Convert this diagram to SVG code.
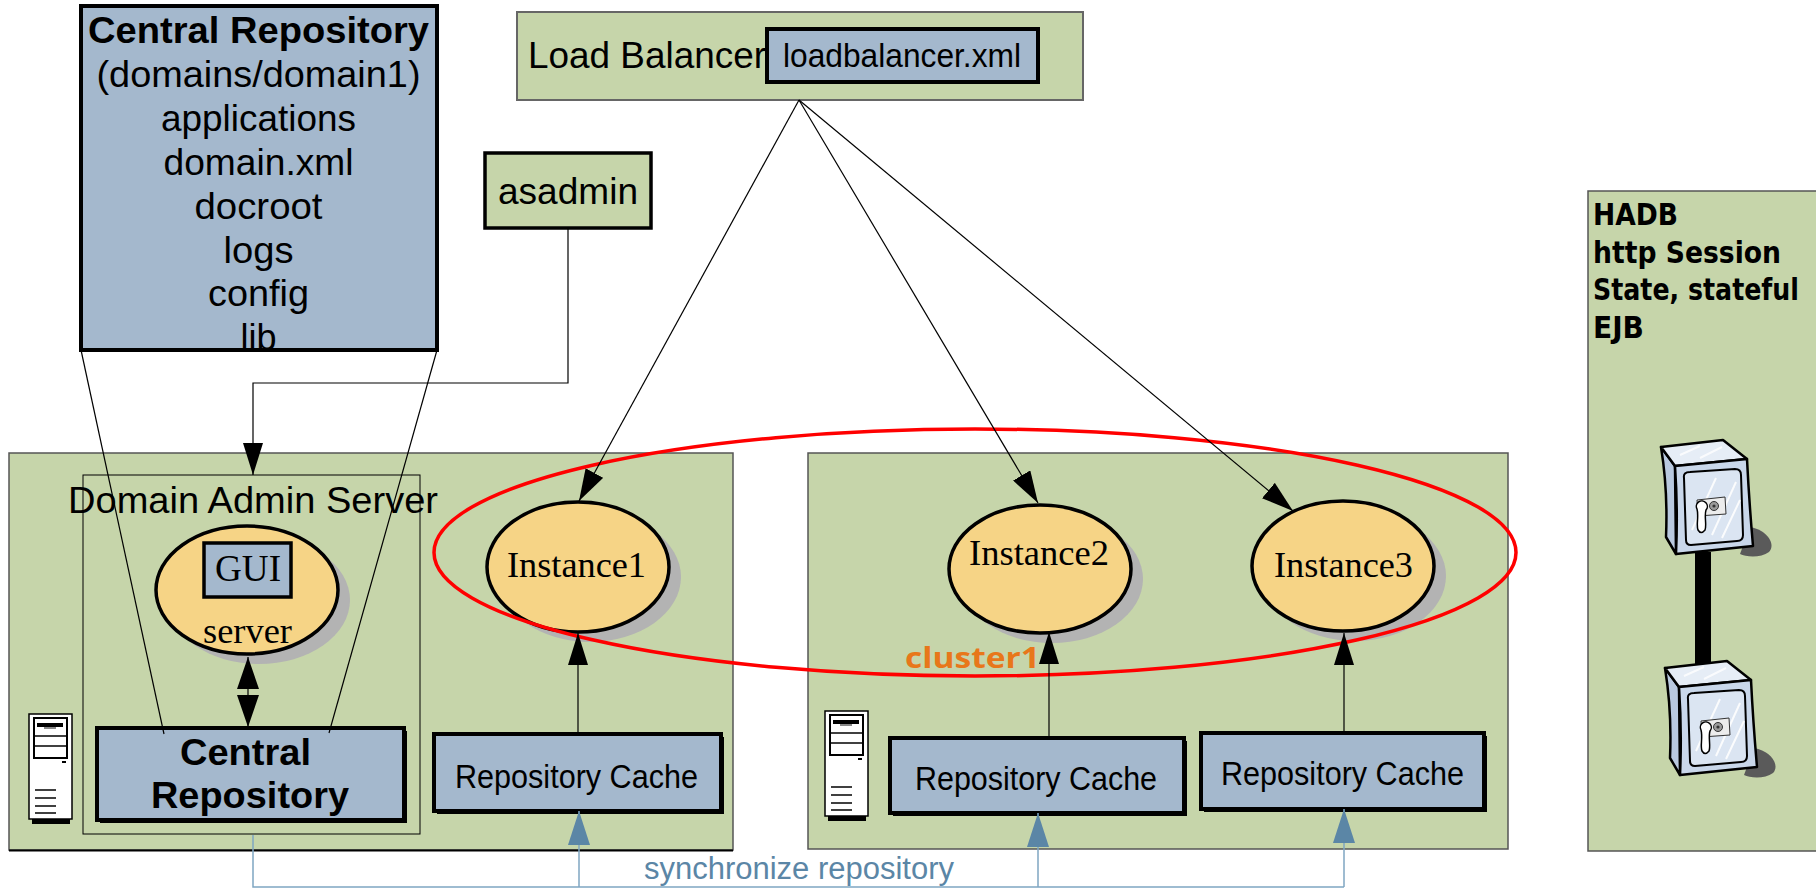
<svg xmlns="http://www.w3.org/2000/svg" xmlns:xlink="http://www.w3.org/1999/xlink" width="1816" height="889" viewBox="0 0 1816 889">
  <style>
    .green { fill: #c6d5aa; stroke: #555; stroke-width: 1.5; }
    .blue { fill: #a4b8cd; stroke: #000; stroke-width: 4; }
    .sans { font-family: "Liberation Sans", Arial, sans-serif; fill: #000; }
    .bold { font-weight: bold; }
    .serif { font-family: "Liberation Serif", "Times New Roman", serif; fill: #000; }
    .mid { text-anchor: middle; }
    .node-ell { fill: #f6d486; stroke: #000; stroke-width: 3.5; }
    .shadow { fill: #b3b3b3; }
    .edge { fill: none; stroke: #000; stroke-width: 1.2; }
    .sync { fill: none; stroke: #7fa6c2; stroke-width: 1.5; }
    .hadb { font-family: "DejaVu Sans", "Open Sans", sans-serif; font-weight: bold; font-size: 30px; fill: #000; }
  </style>
  <defs>
    <marker id="arrow" viewBox="0 0 32 20" refX="32" refY="10" markerWidth="32" markerHeight="20" markerUnits="userSpaceOnUse" orient="auto">
      <path d="M0,0 L32,10 L0,20 z" fill="#000"/>
    </marker>
    <marker id="arrow2" viewBox="0 0 32 22" refX="32" refY="11" markerWidth="32" markerHeight="22" markerUnits="userSpaceOnUse" orient="auto-start-reverse">
      <path d="M0,0 L32,11 L0,22 z" fill="#000"/>
    </marker>
    <marker id="syncArrow" viewBox="0 0 34 22" refX="34" refY="11" markerWidth="34" markerHeight="22" markerUnits="userSpaceOnUse" orient="auto">
      <path d="M0,0 L34,11 L0,22 z" fill="#5b86a6"/>
    </marker>
    <!-- tower PC icon -->
    <g id="tower">
      <rect x="0" y="0" width="43" height="105" fill="#fff" stroke="#000" stroke-width="1.5"/>
      <rect x="3" y="105" width="38" height="5" fill="#000"/>
      <rect x="5" y="4" width="33" height="40" fill="#fff" stroke="#000" stroke-width="2"/>
      <line x1="5" y1="22" x2="38" y2="22" stroke="#000" stroke-width="1.5"/>
      <line x1="5" y1="32" x2="38" y2="32" stroke="#000" stroke-width="1.5"/>
      <rect x="8" y="9" width="26" height="4" fill="#000"/>
      <rect x="15" y="13" width="12" height="2" fill="#888"/>
      <rect x="33" y="47" width="4" height="2" fill="#000"/>
      <g stroke="#000" stroke-width="1.5">
        <line x1="6" y1="76" x2="27" y2="76"/>
        <line x1="6" y1="84" x2="27" y2="84"/>
        <line x1="6" y1="92" x2="27" y2="92"/>
        <line x1="6" y1="99" x2="27" y2="99"/>
      </g>
    </g>
    <!-- safe / storage box icon -->
    <g id="safe">
      <path d="M1750,527 C1768,530 1776,545 1769,552 C1761,558 1746,557 1740,554 Z" fill="#5a5a5a"/>
      <path d="M1661,447 L1675,466 L1676,554 L1666,537 Q1668,490 1661,447 Z" fill="#b9c9df" stroke="#000" stroke-width="2.5" stroke-linejoin="round"/>
      <path d="M1661,447 L1723,440 L1747,459 L1675,466 Z" fill="#e6edf6" stroke="#000" stroke-width="2.5" stroke-linejoin="round"/>
      <path d="M1675,466 L1747,459 Q1749,500 1753,546 L1676,554 Q1678,510 1675,466 Z" fill="#c9d7ea" stroke="#000" stroke-width="2.5" stroke-linejoin="round"/>
      <g stroke="#fff" stroke-width="2" opacity="0.8">
        <line x1="1680" y1="455" x2="1700" y2="446"/>
        <line x1="1700" y1="458" x2="1722" y2="447"/>
      </g>
      <path d="M1684,478 Q1683,472 1690,472 L1735,469 Q1741,469 1741,475 L1743,535 Q1743,541 1737,541 L1691,545 Q1686,545 1686,540 Z" fill="#dbe5f2" stroke="#000" stroke-width="2"/>
      <g stroke="#fff" stroke-width="2" opacity="0.9">
        <line x1="1692" y1="530" x2="1716" y2="478"/>
        <line x1="1712" y1="535" x2="1736" y2="482"/>
        <line x1="1722" y1="538" x2="1740" y2="500"/>
      </g>
      <polygon points="1697,500 1725,497 1726,514 1698,516" fill="#ececec" stroke="#333" stroke-width="1"/>
      <circle cx="1714" cy="506" r="4.5" fill="#9a9a9a" stroke="#333" stroke-width="1"/>
      <circle cx="1714" cy="506" r="1.6" fill="#333"/>
      <path d="M1697,509 A5.5,5.5 0 1 1 1706,510 C1704,516 1707,525 1705,530 Q1701,535 1698,530 C1696,525 1699,516 1697,509 Z" fill="#fff" stroke="#000" stroke-width="1.5"/>
    </g>
  </defs>

  <rect width="1816" height="889" fill="#fff"/>

  <!-- host containers -->
  <g id="host-das">
    <rect class="green" x="9" y="453" width="724" height="397"/>
    <line x1="9" y1="850.5" x2="733" y2="850.5" stroke="#000" stroke-width="2"/>
    <use xlink:href="#tower" href="#tower" transform="translate(29,714)"/>
  </g>
  <g id="host-2">
    <rect class="green" x="808" y="453" width="700" height="396"/>
    <use xlink:href="#tower" href="#tower" transform="translate(825,711)"/>
  </g>
  <g id="hadb">
    <rect class="green" x="1588" y="191" width="250" height="660" stroke="#333"/>
    <text class="hadb" x="1593" y="225" textLength="85" lengthAdjust="spacingAndGlyphs">HADB</text>
    <text class="hadb" x="1593" y="262.5" textLength="188" lengthAdjust="spacingAndGlyphs">http Session</text>
    <text class="hadb" x="1593" y="300" textLength="206" lengthAdjust="spacingAndGlyphs">State, stateful</text>
    <text class="hadb" x="1593" y="337.5" textLength="51" lengthAdjust="spacingAndGlyphs">EJB</text>
    <rect x="1695" y="552" width="16" height="115" fill="#000"/>
    <use xlink:href="#safe" href="#safe"/>
    <use xlink:href="#safe" href="#safe" transform="translate(4,221)"/>
  </g>

  <!-- Domain Admin Server -->
  <g id="domain-admin-server">
    <rect x="83" y="475" width="337" height="359" fill="none" stroke="#000" stroke-width="1"/>
    <text class="sans" x="68" y="513" font-size="36" textLength="370" lengthAdjust="spacingAndGlyphs">Domain Admin Server</text>
  </g>

  <!-- central repository (files) -->
  <g id="central-repository-files">
    <rect x="81" y="6" width="356" height="344" fill="#a4b8cd"/>
    <g class="sans mid" font-size="36">
      <text class="bold" x="258.5" y="43" textLength="341" lengthAdjust="spacingAndGlyphs">Central Repository</text>
      <text x="258.5" y="87" textLength="324" lengthAdjust="spacingAndGlyphs">(domains/domain1)</text>
      <text x="258.5" y="131" textLength="195" lengthAdjust="spacingAndGlyphs">applications</text>
      <text x="258.5" y="175" textLength="190" lengthAdjust="spacingAndGlyphs">domain.xml</text>
      <text x="258.5" y="219" textLength="128" lengthAdjust="spacingAndGlyphs">docroot</text>
      <text x="258.5" y="263" textLength="70" lengthAdjust="spacingAndGlyphs">logs</text>
      <text x="258.5" y="306" textLength="101" lengthAdjust="spacingAndGlyphs">config</text>
      <text x="258.5" y="350">lib</text>
    </g>
    <rect x="81" y="6" width="356" height="344" fill="none" stroke="#000" stroke-width="4"/>
    <rect x="79" y="350" width="360" height="10" fill="#fff"/>
    <line x1="79" y1="350" x2="439" y2="350" stroke="#000" stroke-width="4"/>
  </g>

  <!-- load balancer -->
  <g id="load-balancer">
    <rect x="517" y="12" width="566" height="88" fill="#c6d5aa" stroke="#666" stroke-width="2"/>
    <text class="sans" x="528" y="68" font-size="36" textLength="238" lengthAdjust="spacingAndGlyphs">Load Balancer</text>
    <rect class="blue" x="767" y="29" width="271" height="53"/>
    <text class="sans" x="783" y="67" font-size="34" textLength="238" lengthAdjust="spacingAndGlyphs">loadbalancer.xml</text>
  </g>

  <!-- asadmin -->
  <g id="asadmin">
    <rect x="485" y="153" width="166" height="75" fill="#c6d5aa" stroke="#000" stroke-width="3.5"/>
    <text class="sans mid" x="568" y="204" font-size="37" textLength="140" lengthAdjust="spacingAndGlyphs">asadmin</text>
  </g>

  <!-- server (GUI) -->
  <g id="server">
    <ellipse class="shadow" cx="259" cy="600" rx="91" ry="64"/>
    <ellipse class="node-ell" cx="247" cy="590" rx="91" ry="64"/>
    <rect x="204" y="543" width="87" height="54" fill="#a4b8cd" stroke="#000" stroke-width="3.5"/>
    <text class="serif mid" x="248" y="581" font-size="38" textLength="66" lengthAdjust="spacingAndGlyphs">GUI</text>
    <text class="serif mid" x="247.5" y="643" font-size="36" textLength="89" lengthAdjust="spacingAndGlyphs">server</text>
  </g>

  <!-- central repository (DAS) -->
  <g id="central-repository">
    <rect x="100" y="731" width="307" height="92" fill="#000"/>
    <rect class="blue" x="97" y="728" width="307" height="92"/>
    <text class="sans bold mid" x="245.5" y="765" font-size="36" textLength="131" lengthAdjust="spacingAndGlyphs">Central</text>
    <text class="sans bold mid" x="250" y="808" font-size="36" textLength="198" lengthAdjust="spacingAndGlyphs">Repository</text>
  </g>

  <!-- instances -->
  <g id="instance1">
    <ellipse class="shadow" cx="590" cy="577" rx="91" ry="65"/>
    <ellipse class="node-ell" cx="578" cy="567" rx="91" ry="65"/>
    <text class="serif mid" x="576.5" y="577" font-size="36" textLength="139" lengthAdjust="spacingAndGlyphs">Instance1</text>
  </g>
  <g id="instance2">
    <ellipse class="shadow" cx="1052" cy="579" rx="91" ry="64"/>
    <ellipse class="node-ell" cx="1040" cy="569" rx="91" ry="64"/>
    <text class="serif mid" x="1039" y="565" font-size="36" textLength="140" lengthAdjust="spacingAndGlyphs">Instance2</text>
  </g>
  <g id="instance3">
    <ellipse class="shadow" cx="1355" cy="576" rx="91" ry="65"/>
    <ellipse class="node-ell" cx="1343" cy="566" rx="91" ry="65"/>
    <text class="serif mid" x="1343.5" y="577" font-size="36" textLength="139" lengthAdjust="spacingAndGlyphs">Instance3</text>
  </g>

  <!-- repository caches -->
  <g id="repository-cache1">
    <rect x="437" y="737" width="287" height="77" fill="#000"/>
    <rect class="blue" x="434" y="734" width="287" height="77"/>
    <text class="sans mid" x="576.5" y="788" font-size="34" textLength="243" lengthAdjust="spacingAndGlyphs">Repository Cache</text>
  </g>
  <g id="repository-cache2">
    <rect x="893" y="741" width="294" height="75" fill="#000"/>
    <rect class="blue" x="890" y="738" width="294" height="75"/>
    <text class="sans mid" x="1036" y="790" font-size="34" textLength="242" lengthAdjust="spacingAndGlyphs">Repository Cache</text>
  </g>
  <g id="repository-cache3">
    <rect x="1204" y="736" width="283" height="76" fill="#000"/>
    <rect class="blue" x="1201" y="733" width="283" height="76"/>
    <text class="sans mid" x="1342.5" y="785" font-size="34" textLength="243" lengthAdjust="spacingAndGlyphs">Repository Cache</text>
  </g>

  <!-- cluster outline -->
  <g id="cluster1">
    <ellipse cx="975" cy="552.5" rx="541" ry="123.5" fill="none" stroke="#f00" stroke-width="3.5"/>
    <text x="905" y="668" font-family="'Open Sans', 'DejaVu Sans', sans-serif" font-weight="bold" font-size="28" fill="#e8771a" textLength="135" lengthAdjust="spacingAndGlyphs">cluster1</text>
  </g>

  <!-- connectors -->
  <g id="connectors">
    <path class="edge" d="M81,350 L164,734"/>
    <path class="edge" d="M437,350 L329,733"/>
    <path class="edge" d="M568,229 V383 H253 V475" marker-end="url(#arrow)"/>
    <path class="edge" d="M248,657 V727" marker-start="url(#arrow2)" marker-end="url(#arrow2)"/>
    <path class="edge" d="M799,100 L579,501" marker-end="url(#arrow)"/>
    <path class="edge" d="M799,100 L1038,503" marker-end="url(#arrow)"/>
    <path class="edge" d="M799,100 L1293,511" marker-end="url(#arrow)"/>
    <path class="edge" d="M578,734 V633" marker-end="url(#arrow)"/>
    <path class="edge" d="M1049,738 V632" marker-end="url(#arrow)"/>
    <path class="edge" d="M1344,733 V633" marker-end="url(#arrow)"/>
    <path class="sync" d="M253,835 V887 H1344"/>
    <path class="sync" d="M579,887 V811" marker-end="url(#syncArrow)"/>
    <path class="sync" d="M1038,887 V813" marker-end="url(#syncArrow)"/>
    <path class="sync" d="M1344,887 V809" marker-end="url(#syncArrow)"/>
    <text class="sans" x="644" y="879" font-size="31" textLength="310" lengthAdjust="spacingAndGlyphs" style="fill:#5b86a6">synchronize repository</text>
  </g>
</svg>
